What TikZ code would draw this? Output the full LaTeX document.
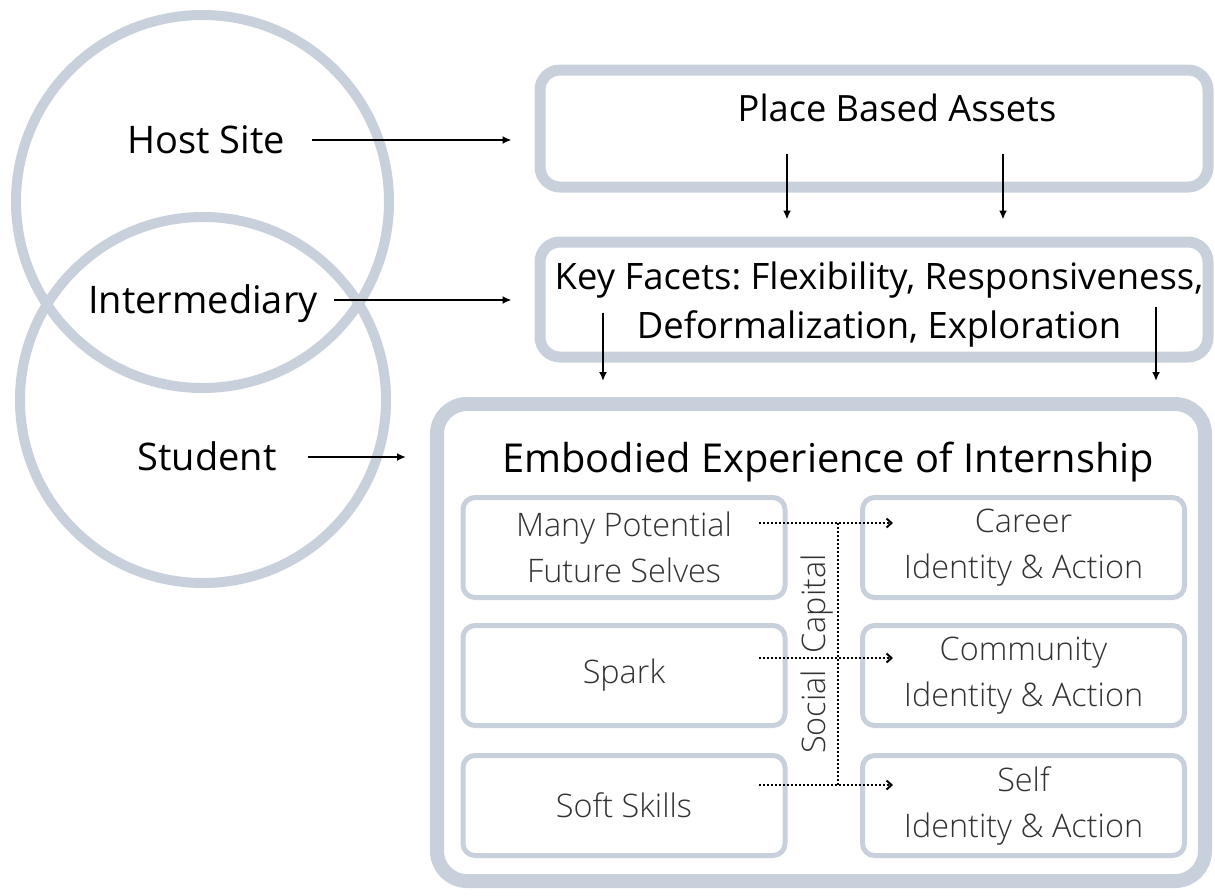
\documentclass[tikz,border=0pt]{standalone}
\usepackage{fontspec}
\setmainfont{Open Sans}
\newfontfamily\lightfont{Open Sans Light}
\usetikzlibrary{arrows.meta,calc}
\frenchspacing
\definecolor{ringgray}{RGB}{200,209,219}
\definecolor{softtext}{RGB}{50,50,50}
\tikzset{
  lbl/.style={inner sep=0pt, font=\fontsize{19}{24.5}\selectfont, text height=13.6pt, text depth=0pt},
  bigbox/.style={draw=ringgray, line width=5.5pt, rounded corners=10pt, minimum width=334pt},
  cellbox/.style={draw=ringgray, line width=2.5pt, rounded corners=6pt, minimum width=161pt,
    minimum height=50pt, inner sep=0pt, align=center, text=softtext,
    font=\lightfont\fontsize{16.2}{23}\selectfont},
  arr/.style={-{Latex[length=4.5pt,width=4pt]}, line width=1pt},
  dots/.style={line width=1pt, dash pattern=on 1pt off 1pt},
  dotarr/.style={dots, -{Straight Barb[length=2.5pt,width=4.5pt]}}
}
\begin{document}
\begin{tikzpicture}[x=0.5pt,y=-0.5pt]
    \useasboundingbox (0,0) rectangle (1215,895);

    % Circles
    \draw[ringgray, line width=5pt] (202.5,201.5) circle[radius=186.5];
    \draw[ringgray, line width=5pt] (203,400) circle[radius=183];

    \node[lbl] (host) at (206,140) {Host Site};
    \node[lbl] (inter) at (203,300) {Intermediary};
    \node[lbl] (stud) at (207,457) {Student};

    % Boxes on the right
    \node[bigbox, minimum height=58.5pt] (place) at (874,128.5) {};
    \node[lbl, font=\fontsize{18.1}{24.5}\selectfont] (placetxt) at (897,108) {Place Based Assets};
    \node[bigbox, minimum height=57.5pt] (key) at (874,299.5) {};
    \node[inner sep=0pt, align=center, font=\fontsize{18.2}{24.5}\selectfont] (keytxt) at (879,305)
        {Key Facets: Flexibility, Responsiveness,\\Deformalization, Exploration};
    \node[bigbox, line width=7pt, rounded corners=15pt, minimum width=384pt,
        minimum height=238.5pt] (emb) at (821,642.5) {};
    \node[lbl, font=\fontsize{19.9}{24.5}\selectfont, text height=14.2pt] (embtxt) at (828,458)
        {Embodied Experience of Internship};

    % Inner cells
    \node[cellbox] (mpfs) at (624,547.5) {Many Potential\\Future Selves};
    \node[cellbox] (spark) at (624,675.5) {Spark};
    \node[cellbox] (soft) at (624,805.5) {Soft Skills};
    \node[cellbox] (career) at (1023.5,547.5) {Career\\Identity \& Action};
    \node[cellbox] (community) at (1023.5,675.5) {Community\\Identity \& Action};
    \node[cellbox] (self) at (1023.5,805.5) {Self\\Identity \& Action};
    \node[rotate=90, inner sep=0pt, text=softtext, font=\lightfont\fontsize{16.2}{18}\selectfont]
        (social) at (817,654) {Social\ \ Capital};

    % Arrows
    \draw[arr] ($(host.east)+(27,0)$) -- ($(host.east -| place.west)+(-23,0)$);
    \draw[arr] ($(inter.east)+(16,0)$) -- ($(inter.east -| key.west)+(-23,0)$);
    \draw[arr] ($(stud.east)+(31,0)$) -- ($(stud.east -| emb.west)+(-24,0)$);
    \draw[arr] ($(place.south)+(-87,-39)$) -- ($(key.north)+(-87,-17)$);
    \draw[arr] ($(place.south)+(129,-39)$) -- ($(key.north)+(129,-17)$);
    \draw[arr] ($(key.south)+(-271,-50)$) -- ($(emb.north)+(-218,-16)$);
    \draw[arr] ($(key.south)+(282,-56)$) -- ($(emb.north)+(335,-16)$);

    % Social capital links
    \foreach \a/\b/\dy in {mpfs/career/-24.5, spark/community/-17.5, soft/self/-20.5}
        \draw[dotarr] ($(\a.east)+(-29,\dy)$) -- ($(\b.west)+(33,\dy)$);
    \draw[dots] ($(mpfs.east)+(50,-24.5)$) -- ($(soft.east)+(50,-20.5)$);
\end{tikzpicture}
\end{document}
